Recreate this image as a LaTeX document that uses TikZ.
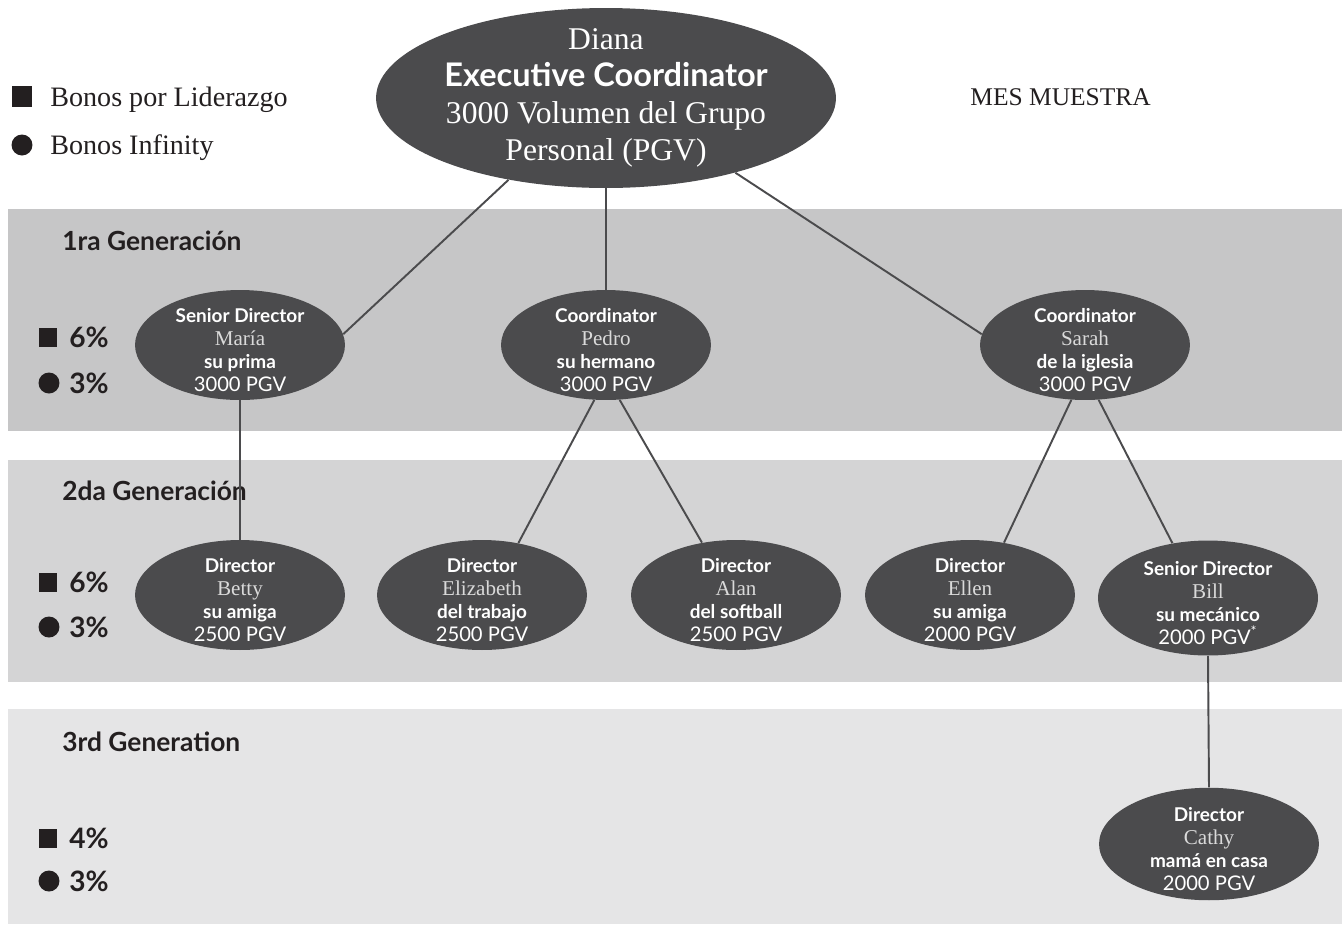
\documentclass[tikz,border=0pt]{standalone}
\usepackage{fontspec}
\setmainfont{Liberation Serif}
\setsansfont{Lato}
\usetikzlibrary{shapes.geometric,positioning}

\definecolor{nodegray}{HTML}{4B4B4D}
\definecolor{bandone}{HTML}{C6C6C7}
\definecolor{bandtwo}{HTML}{D4D4D5}
\definecolor{bandthree}{HTML}{E5E5E6}
\definecolor{textdark}{HTML}{231F20}
\definecolor{namegray}{HTML}{DADADA}

\newcommand{\member}[4]{\rule{0pt}{14pt}{\sffamily\bfseries #1}\\{\fontsize{12}{13}\selectfont\color{namegray}#2}\\{\sffamily\bfseries #3}\\{\sffamily\fontsize{11.5}{13}\selectfont #4}}

\begin{document}
\begin{tikzpicture}[x=0.02cm, y=-0.02cm,
  member/.style={ellipse, fill=nodegray, text=white, align=center,
    minimum width=4.2cm, minimum height=2.2cm, inner xsep=0pt, inner ysep=-10pt,
    font=\fontsize{10.8}{13}\selectfont},
  link/.style={draw=nodegray, line width=1.1pt},
  genlabel/.style={anchor=base west, inner sep=0pt, text=textdark,
    font=\sffamily\bfseries\fontsize{15}{18}\selectfont},
  sqmark/.style={rectangle, fill=textdark, minimum size=0.38cm, inner sep=0pt},
  dotmark/.style={circle, fill=textdark, minimum size=0.42cm, inner sep=0pt},
  pct/.style={anchor=base west, inner sep=0pt, text=textdark,
    font=\sffamily\bfseries\fontsize{16}{18}\selectfont},
  legend/.style={anchor=base west, inner sep=0pt, text=textdark,
    font=\fontsize{16}{18}\selectfont}]
  \useasboundingbox (0,0) rectangle (1343,924);

  % generation bands
  \fill[bandone] (8,209) rectangle (1342,431);
  \fill[bandtwo] (8,460) rectangle (1342,682);
  \fill[bandthree] (8,709) rectangle (1342,924);

  % legend
  \node[sqmark, minimum size=0.42cm] (lsq) at (22,96) {};
  \node[legend] (lsqtext) at (50,106) {Bonos por Liderazgo};
  \node[dotmark] (ldot) at (22,145) {};
  \node[legend] (ldottext) at (50,154) {Bonos Infinity};
  \node[legend, font=\fontsize{14.5}{16}\selectfont] (mes) at (970,105) {MES MUESTRA};

  % generation labels
  \node[genlabel] (gen1) at (62,250) {1ra Generación};
  \node[genlabel] (gen2) at (62,500) {2da Generación};
  \node[genlabel] (gen3) at (62,751) {3rd Generation};

  \node[sqmark] (sq1) at (48,337) {};
  \node[pct] (sq1text) at (69,347) {6\%};
  \node[dotmark] (dot1) at (49,383) {};
  \node[pct] (dot1text) at (69,393) {3\%};
  \node[sqmark] (sq2) at (48,582) {};
  \node[pct] (sq2text) at (69,592) {6\%};
  \node[dotmark] (dot2) at (49,627) {};
  \node[pct] (dot2text) at (69,637) {3\%};
  \node[sqmark] (sq3) at (48,838) {};
  \node[pct] (sq3text) at (69,848) {4\%};
  \node[dotmark] (dot3) at (49,881) {};
  \node[pct] (dot3text) at (69,891) {3\%};

  % members
  \node[member, minimum width=9.2cm, minimum height=3.6cm, inner xsep=-14pt,
    font=\fontsize{18}{21}\selectfont] (diana) at (606,98)
    {Diana\\{\sffamily\bfseries\fontsize{18.5}{21}\selectfont Executive Coordinator}\\3000 Volumen del Grupo\\Personal (PGV)};
  \node[member] (maria) at (240,345) {\member{Senior Director}{María}{su prima}{3000 PGV}};
  \node[member] (pedro) at (606,345) {\member{Coordinator}{Pedro}{su hermano}{3000 PGV}};
  \node[member] (sarah) at (1085,345) {\member{Coordinator}{Sarah}{de la iglesia}{3000 PGV}};
  \node[member] (betty) at (240,595) {\member{Director}{Betty}{su amiga}{2500 PGV}};
  \node[member] (elizabeth) at (482,595) {\member{Director}{Elizabeth}{del trabajo}{2500 PGV}};
  \node[member] (alan) at (736,595) {\member{Director}{Alan}{del softball}{2500 PGV}};
  \node[member] (ellen) at (970,595) {\member{Director}{Ellen}{su amiga}{2000 PGV}};
  \node[member, minimum width=4.4cm, minimum height=2.3cm] (bill) at (1208,598)
    {\member{Senior Director}{Bill}{su mecánico}{2000 PGV\textsuperscript{*}}};
  \node[member, minimum width=4.4cm, minimum height=2.25cm] (cathy) at (1209,844)
    {\member{Director}{Cathy}{mamá en casa}{2000 PGV}};

  \path[link] (diana.-140) edge (maria.6)
              (diana.south) edge (pedro.north)
              (diana.-30) edge (sarah.174)
              (maria.south) edge (betty.north)
              (pedro.-102) edge (elizabeth.55)
              (pedro.-76) edge (alan.123)
              (sarah.-104) edge (ellen.57)
              (sarah.-76) edge (bill.123)
              (bill.south) edge (cathy.north);
\end{tikzpicture}
\end{document}
